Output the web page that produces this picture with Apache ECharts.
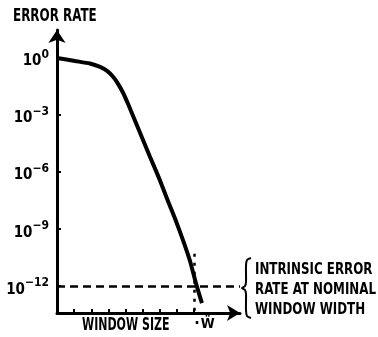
<!DOCTYPE html>
<html>
<head>
<meta charset="utf-8">
<script src="https://cdn.jsdelivr.net/npm/echarts@6/dist/echarts.min.js"></script>
<style>
  html, body { margin: 0; padding: 0; background: #fff; }
  #chart { width: 378px; height: 337px; }
</style>
</head>
<body>
<div id="chart"></div>
<script>
// Error rate versus window size; error rate is plotted as log10 exponent.
const windowSize = [0, 1.05, 1.92, 2.51, 2.92, 3.27, 3.56, 3.85, 4.14, 4.43, 4.84, 5.42, 6.01, 6.47, 6.88, 7.35, 7.76, 8.10, 8.45];
const logErrorRate = [0, -0.16, -0.29, -0.47, -0.68, -0.99, -1.36, -1.83, -2.41, -3.04, -3.93, -5.19, -6.45, -7.52, -8.44, -9.59, -10.69, -11.84, -12.89];
const exponentTicks = [-12, -9, -6, -3, 0];
const windowTicks = [1, 2, 3, 4, 5, 6, 7, 8];
const nominalWindow = 8;
const intrinsicLogRate = -12;

const FONT = "'Liberation Sans Narrow', 'DejaVu Sans Condensed', 'Liberation Sans', sans-serif";

const chart = echarts.init(document.getElementById('chart'), null, { renderer: 'canvas' });

const points = windowSize.map((x, i) => [x, logErrorRate[i]]);

// curly brace beside the annotation text
const bracePoints = [[9, 0], [5, 2], [4, 8], [4, 24], [3, 28], [0, 30], [3, 32], [4, 36], [4, 52], [5, 58], [9, 60]];

chart.setOption({
  backgroundColor: '#ffffff',
  animation: false,
  grid: { left: 57, right: 138, top: 30, bottom: 24 },
  xAxis: {
    type: 'value',
    min: 0,
    max: 10.67,
    splitLine: { show: false },
    axisLine: {
      onZero: false,
      symbol: ['none', 'arrow'],
      symbolSize: [12, 13],
      lineStyle: { color: '#000', width: 3 }
    },
    axisTick: {
      customValues: windowTicks,
      inside: true,
      length: 4,
      lineStyle: { color: '#000', width: 2 }
    },
    axisLabel: {
      customValues: [nominalWindow],
      formatter: () => '{d|·}{w|Ẅ}',
      align: 'left',
      margin: 3,
      rich: {
        d: { fontFamily: FONT, fontWeight: 'bold', fontSize: 16, color: '#000', padding: [0, 1, 0, 0] },
        w: { fontFamily: FONT, fontWeight: 'bold', fontSize: 14, color: '#000' }
      }
    }
  },
  yAxis: {
    type: 'value',
    min: -13.41,
    max: 1.47,
    splitLine: { show: false },
    axisLine: {
      symbol: ['none', 'arrow'],
      symbolSize: [13, 13],
      lineStyle: { color: '#000', width: 3 }
    },
    axisTick: {
      customValues: exponentTicks,
      inside: true,
      length: 4,
      lineStyle: { color: '#000', width: 2 }
    },
    axisLabel: {
      customValues: exponentTicks,
      margin: 8,
      formatter: v => '{b|10}{s|' + (v === 0 ? '0' : '\u2212' + (-v)) + '}',
      rich: {
        b: { fontFamily: FONT, fontWeight: 'bold', fontSize: 15, color: '#000', verticalAlign: 'bottom', lineHeight: 22, padding: [8, 0, 0, 0] },
        s: { fontFamily: FONT, fontWeight: 'bold', fontSize: 12, color: '#000', verticalAlign: 'top', lineHeight: 22, padding: [2, 0, 0, 0] }
      }
    }
  },
  series: [{
    type: 'line',
    data: points,
    smooth: 0.2,
    symbol: 'none',
    clip: false,
    lineStyle: { color: '#000', width: 4 },
    markLine: {
      silent: true,
      symbol: 'none',
      label: { show: false },
      data: [
        [
          { coord: [0, intrinsicLogRate], lineStyle: { type: [8, 5], width: 2.5, color: '#000' } },
          { coord: [10.67, intrinsicLogRate] }
        ],
        [
          { coord: [nominalWindow, -10.3], lineStyle: { type: [3, 6], width: 2.5, color: '#000' } },
          { coord: [nominalWindow, -13.41] }
        ]
      ]
    }
  }],
  graphic: [
    {
      type: 'text', x: 13, y: 8, scaleX: 0.78,
      style: { text: 'ERROR RATE', fill: '#000', font: 'bold 17px ' + FONT }
    },
    {
      type: 'text', x: 82, y: 317, scaleX: 0.72,
      style: { text: 'WINDOW SIZE', fill: '#000', font: 'bold 17px ' + FONT }
    },
    {
      type: 'polyline', x: 242, y: 258,
      shape: { points: bracePoints, smooth: 0.3 },
      style: { fill: 'none', stroke: '#000', lineWidth: 2 }
    },
    {
      type: 'text', x: 255, y: 260, scaleX: 0.8,
      style: {
        text: 'INTRINSIC ERROR\nRATE AT NOMINAL\nWINDOW WIDTH',
        fill: '#000', font: 'bold 16.5px ' + FONT, lineHeight: 20
      }
    }
  ]
});
</script>
</body>
</html>
